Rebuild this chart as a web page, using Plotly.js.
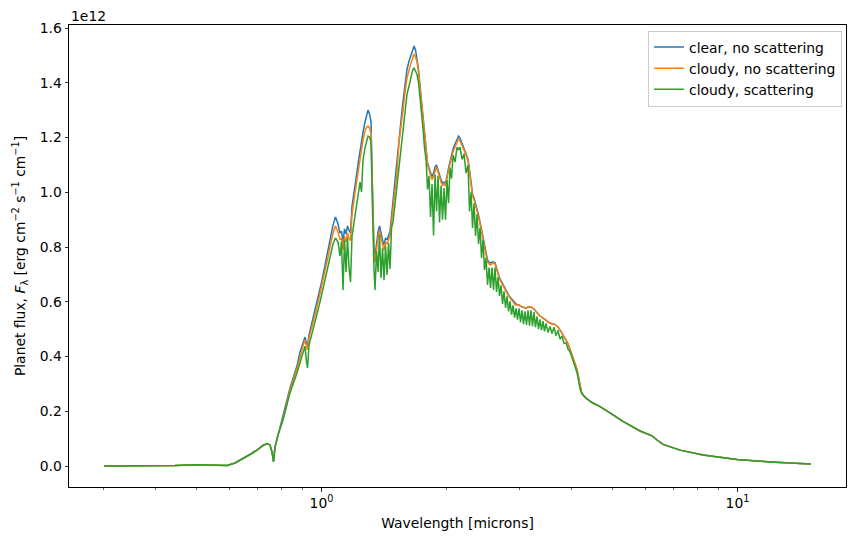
<!DOCTYPE html>
<html>
<head>
<meta charset="utf-8">
<script src="https://cdn.plot.ly/plotly-3.0.1.min.js"></script>
<style>html,body{margin:0;padding:0;background:#fff;}#chart{width:854px;height:545px;}</style>
</head>
<body>
<div id="chart"></div>
<script>
// Wavelength in microns
const wavelength = [
  0.300, 0.3465, 0.3871, 0.4444, 0.5048, 0.5546, 0.5927, 0.6196, 0.6436, 0.6731, 0.6997, 0.7234, 0.7396, 0.7520, 0.7604, 0.7667, 0.7731, 0.7860, 0.8080,
  0.8400, 0.8731, 0.8878, 0.9027, 0.9128, 0.9204, 0.9255, 0.9332, 0.9488, 0.9700, 0.9863, 1.0028, 1.0196, 1.0366, 1.0540, 1.0657, 1.0805, 1.0956, 1.1078,
  1.1171, 1.1264, 1.1358, 1.1453, 1.1548, 1.1645, 1.1742, 1.1840, 1.1938, 1.2038, 1.2138, 1.2240, 1.2376, 1.2479, 1.2583, 1.2723, 1.2829, 1.2936, 1.3044, 1.3153, 1.3226, 1.3299, 1.3373,
  1.3448, 1.3560, 1.3673, 1.3787, 1.3902, 1.4018, 1.4135, 1.4253, 1.4372, 1.4491, 1.4612, 1.4734, 1.4857,
  1.5022, 1.5189, 1.5359, 1.5530, 1.5703, 1.5878, 1.6054, 1.6233, 1.6414, 1.6551, 1.6689, 1.6828, 1.6968, 1.7110, 1.7252, 1.7396, 1.7541, 1.7688, 1.7835, 1.7984,
  1.8134, 1.8285, 1.8437, 1.8591, 1.8746, 1.8902, 1.9060, 1.9219, 1.9379, 1.9540, 1.9703, 1.9867, 2.0033, 2.0200, 2.0368, 2.0538, 2.0709, 2.0940, 2.1173, 2.1349,
  2.1527, 2.1767, 2.2009, 2.2254, 2.2502, 2.2689, 2.2879, 2.3070, 2.3262, 2.3456, 2.3651, 2.3849, 2.4047, 2.4248, 2.4450, 2.4654, 2.4859, 2.5066, 2.5275, 2.5486,
  2.5698, 2.5913, 2.6129, 2.6346, 2.6566, 2.6787,
  2.7011, 2.7236, 2.7463, 2.7692, 2.7923, 2.8156, 2.8390, 2.8627, 2.8866, 2.9106, 2.9349, 2.9593, 2.9840, 3.0089, 3.0339, 3.0592, 3.0847, 3.1105, 3.1364, 3.1623,
  3.1887, 3.2152, 3.2420, 3.2690, 3.2963, 3.3237, 3.3514, 3.3794, 3.4075, 3.4359, 3.4646, 3.5032, 3.5422, 3.5817, 3.6216, 3.6619, 3.7027, 3.7439, 3.7856, 3.8278,
  3.8704, 3.9135, 3.9571, 4.0012, 4.0457, 4.0795, 4.1135, 4.1478, 4.1824, 4.2170,
  4.2524, 4.3236, 4.4697, 4.6712, 4.9374, 5.3058, 5.8311, 5.9948, 6.2318, 6.4067, 6.6233, 7.2747, 8.2610, 9.9724, 11.970, 15.0
];

// Planet flux in units of 1e12 erg cm^-2 s^-1 cm^-1
const fluxClearNoScat = [
  0, 0, 0, 0.002, 0.005, 0.004, 0.002, 0.011, 0.024, 0.042, 0.058, 0.075, 0.082, 0.077, 0.051, 0.016, 0.069, 0.113, 0.175,
  0.285, 0.365, 0.416, 0.449, 0.471, 0.449, 0.438, 0.479, 0.522, 0.584, 0.632, 0.679, 0.734, 0.789, 0.844, 0.880, 0.910, 0.884, 0.851,
  0.858, 0.818, 0.866, 0.847, 0.877, 0.862, 0.851, 0.950, 0.983, 1.026, 1.063, 1.103, 1.154, 1.184, 1.220, 1.257, 1.279, 1.300, 1.286, 1.257, 1.081, 0.862, 0.796,
  0.767, 0.815, 0.855, 0.877, 0.847, 0.826, 0.807, 0.833, 0.826, 0.840, 0.858, 0.913, 0.972,
  1.045, 1.107, 1.205, 1.264, 1.333, 1.395, 1.450, 1.479, 1.505, 1.520, 1.534, 1.520, 1.490, 1.447, 1.388, 1.330, 1.271, 1.213, 1.162, 1.107,
  1.089, 1.070, 1.056, 1.070, 1.092, 1.100, 1.081, 1.059, 1.045, 1.034, 1.037, 1.030, 1.067, 1.089, 1.111, 1.136, 1.158, 1.176, 1.195, 1.205,
  1.198, 1.180, 1.162, 1.143, 1.121, 1.081, 1.023, 0.994, 0.979, 0.961, 0.942, 0.917, 0.891, 0.862, 0.847, 0.815, 0.778, 0.753, 0.745, 0.742,
  0.745, 0.745, 0.742, 0.727, 0.705, 0.687,
  0.676, 0.665, 0.654, 0.643, 0.636, 0.625, 0.617, 0.610, 0.603, 0.595, 0.592, 0.588, 0.588, 0.584, 0.581, 0.577, 0.577, 0.577, 0.581, 0.581,
  0.581, 0.577, 0.574, 0.566, 0.559, 0.552, 0.548, 0.544, 0.541, 0.537, 0.533, 0.526, 0.522, 0.519, 0.519, 0.515, 0.508, 0.497, 0.486, 0.475,
  0.460, 0.446, 0.427, 0.405, 0.387, 0.369, 0.351, 0.321, 0.292, 0.270,
  0.259, 0.248, 0.232, 0.217, 0.194, 0.163, 0.128, 0.121, 0.110, 0.095, 0.079, 0.058, 0.040, 0.024, 0.015, 0.007
];

const fluxCloudyNoScat = [
  0, 0, 0, 0.002, 0.005, 0.004, 0.002, 0.011, 0.024, 0.042, 0.058, 0.075, 0.082, 0.077, 0.051, 0.016, 0.069, 0.113, 0.172,
  0.278, 0.354, 0.402, 0.438, 0.460, 0.435, 0.424, 0.468, 0.508, 0.566, 0.614, 0.661, 0.712, 0.763, 0.818, 0.851, 0.877, 0.855, 0.826,
  0.833, 0.789, 0.840, 0.818, 0.851, 0.833, 0.822, 0.921, 0.953, 0.997, 1.034, 1.074, 1.125, 1.154, 1.191, 1.224, 1.238, 1.242, 1.235, 1.216, 1.063, 0.844, 0.771,
  0.745, 0.796, 0.833, 0.862, 0.826, 0.807, 0.789, 0.818, 0.811, 0.826, 0.840, 0.891, 0.942,
  1.008, 1.074, 1.184, 1.235, 1.300, 1.366, 1.417, 1.447, 1.476, 1.490, 1.505, 1.494, 1.476, 1.439, 1.381, 1.326, 1.264, 1.209, 1.154, 1.100,
  1.081, 1.059, 1.045, 1.059, 1.081, 1.092, 1.074, 1.052, 1.037, 1.026, 1.030, 1.023, 1.059, 1.081, 1.103, 1.129, 1.147, 1.165, 1.187, 1.195,
  1.187, 1.173, 1.154, 1.136, 1.114, 1.074, 1.016, 0.986, 0.972, 0.953, 0.935, 0.910, 0.884, 0.855, 0.840, 0.807, 0.771, 0.745, 0.738, 0.734,
  0.738, 0.742, 0.738, 0.723, 0.701, 0.683,
  0.672, 0.661, 0.650, 0.639, 0.632, 0.621, 0.614, 0.606, 0.599, 0.592, 0.588, 0.588, 0.588, 0.584, 0.581, 0.577, 0.577, 0.577, 0.581, 0.581,
  0.581, 0.577, 0.574, 0.566, 0.559, 0.552, 0.548, 0.544, 0.541, 0.537, 0.533, 0.526, 0.522, 0.519, 0.519, 0.515, 0.508, 0.497, 0.486, 0.475,
  0.460, 0.446, 0.427, 0.405, 0.387, 0.369, 0.351, 0.321, 0.292, 0.270,
  0.259, 0.248, 0.232, 0.217, 0.194, 0.163, 0.128, 0.121, 0.110, 0.095, 0.079, 0.058, 0.040, 0.024, 0.015, 0.007
];

const fluxCloudyScat = [
  0, 0, 0, 0.002, 0.005, 0.004, 0.002, 0.011, 0.024, 0.042, 0.058, 0.075, 0.082, 0.077, 0.051, 0.016, 0.069, 0.113, 0.168,
  0.267, 0.340, 0.380, 0.416, 0.438, 0.380, 0.358, 0.442, 0.482, 0.541, 0.584, 0.632, 0.679, 0.731, 0.782, 0.811, 0.833, 0.818, 0.767,
  0.820, 0.643, 0.825, 0.709, 0.835, 0.723, 0.672, 0.840, 0.877, 0.913, 0.953, 0.990, 1.037, 1.001, 1.118, 1.162, 1.184, 1.205, 1.202, 1.184, 1.008, 0.807, 0.716,
  0.643, 0.785, 0.709, 0.845, 0.687, 0.795, 0.679, 0.805, 0.698, 0.815, 0.720, 0.870, 0.891,
  0.961, 1.016, 1.100, 1.154, 1.235, 1.311, 1.359, 1.388, 1.425, 1.445, 1.455, 1.445, 1.430, 1.400, 1.350, 1.290, 1.230, 1.160, 1.120, 1.010,
  1.060, 0.910, 1.030, 0.842, 1.065, 0.930, 1.060, 0.890, 1.025, 0.900, 1.015, 0.900, 1.045, 0.960, 1.090, 1.050, 1.135, 1.110, 1.165, 1.155,
  1.165, 1.120, 1.140, 1.070, 1.100, 0.930, 1.000, 0.870, 0.960, 0.840, 0.920, 0.811, 0.870, 0.760, 0.825, 0.716, 0.760, 0.661, 0.725, 0.650,
  0.725, 0.643, 0.725, 0.636, 0.690, 0.621,
  0.660, 0.592, 0.638, 0.578, 0.620, 0.565, 0.602, 0.553, 0.587, 0.542, 0.576, 0.535, 0.576, 0.525, 0.569, 0.518, 0.565, 0.515, 0.569, 0.513,
  0.569, 0.511, 0.562, 0.507, 0.547, 0.500, 0.536, 0.496, 0.529, 0.492, 0.521, 0.488, 0.510, 0.484, 0.507, 0.476, 0.496, 0.464, 0.474, 0.448,
  0.450, 0.427, 0.417, 0.395, 0.377, 0.357, 0.341, 0.308, 0.282, 0.266,
  0.259, 0.248, 0.232, 0.217, 0.194, 0.163, 0.128, 0.121, 0.110, 0.095, 0.079, 0.058, 0.040, 0.024, 0.015, 0.007
];

const seriesNames = ['clear, no scattering', 'cloudy, no scattering', 'cloudy, scattering'];
const seriesColors = ['#1f77b4', '#ff7f0e', '#2ca02c'];
const yTickVals = [0, 0.2, 0.4, 0.6, 0.8, 1.0, 1.2, 1.4, 1.6];
const xTickVals = [1, 10];
const xTickText = ['10<sup>0</sup>', '10<sup>1</sup>'];

const seriesData = [fluxClearNoScat, fluxCloudyNoScat, fluxCloudyScat];
const traces = seriesData.map((ys, i) => ({
  x: wavelength, y: ys, type: 'scatter', mode: 'lines',
  name: seriesNames[i],
  line: {color: seriesColors[i], width: 1.5}
}));

const FONT = {family: 'DejaVu Sans, sans-serif', size: 13.9, color: '#000'};

const layout = {
  width: 854, height: 545,
  margin: {l: 69, r: 8, t: 25, b: 58},
  paper_bgcolor: '#fff', plot_bgcolor: '#fff',
  font: FONT,
  showlegend: true,
  legend: {
    x: 0.9949, y: 0.988, xanchor: 'right', yanchor: 'top',
    bgcolor: 'rgba(255,255,255,0.8)', bordercolor: '#cccccc', borderwidth: 1,
    font: FONT, itemwidth: 30, tracegroupgap: 0
  },
  xaxis: {
    type: 'log', range: [-0.6070, 1.2608],
    tickmode: 'array', tickvals: xTickVals, ticktext: xTickText,
    ticks: 'outside', ticklen: 3.5, tickwidth: 0.8, tickcolor: '#000',
    minor: {ticks: 'outside', ticklen: 2, tickwidth: 0.6, tickcolor: '#000', dtick: 'D1', showgrid: false},
    showgrid: false, zeroline: false,
    showline: true, linecolor: '#000', linewidth: 1, mirror: true,
    title: {text: 'Wavelength [microns]', font: FONT, standoff: 8},
    automargin: false
  },
  yaxis: {
    range: [-0.0767, 1.611],
    tickmode: 'array', tickvals: yTickVals, tickformat: '.1f',
    ticks: 'outside', ticklen: 3.5, tickwidth: 0.8, tickcolor: '#000',
    showgrid: false, zeroline: false,
    showline: true, linecolor: '#000', linewidth: 1, mirror: true,
    title: {text: 'Planet flux, <i>F</i><sub>λ</sub> [erg cm<sup>−2</sup> s<sup>−1</sup> cm<sup>−1</sup>]', font: FONT, standoff: 10},
    automargin: false
  },
  annotations: [{
    text: '1e12', xref: 'paper', yref: 'paper', x: 0, y: 1,
    xanchor: 'left', yanchor: 'bottom', showarrow: false, font: FONT, yshift: -1
  }]
};

Plotly.newPlot('chart', traces, layout, {staticPlot: true, displayModeBar: false});
</script>
</body>
</html>
